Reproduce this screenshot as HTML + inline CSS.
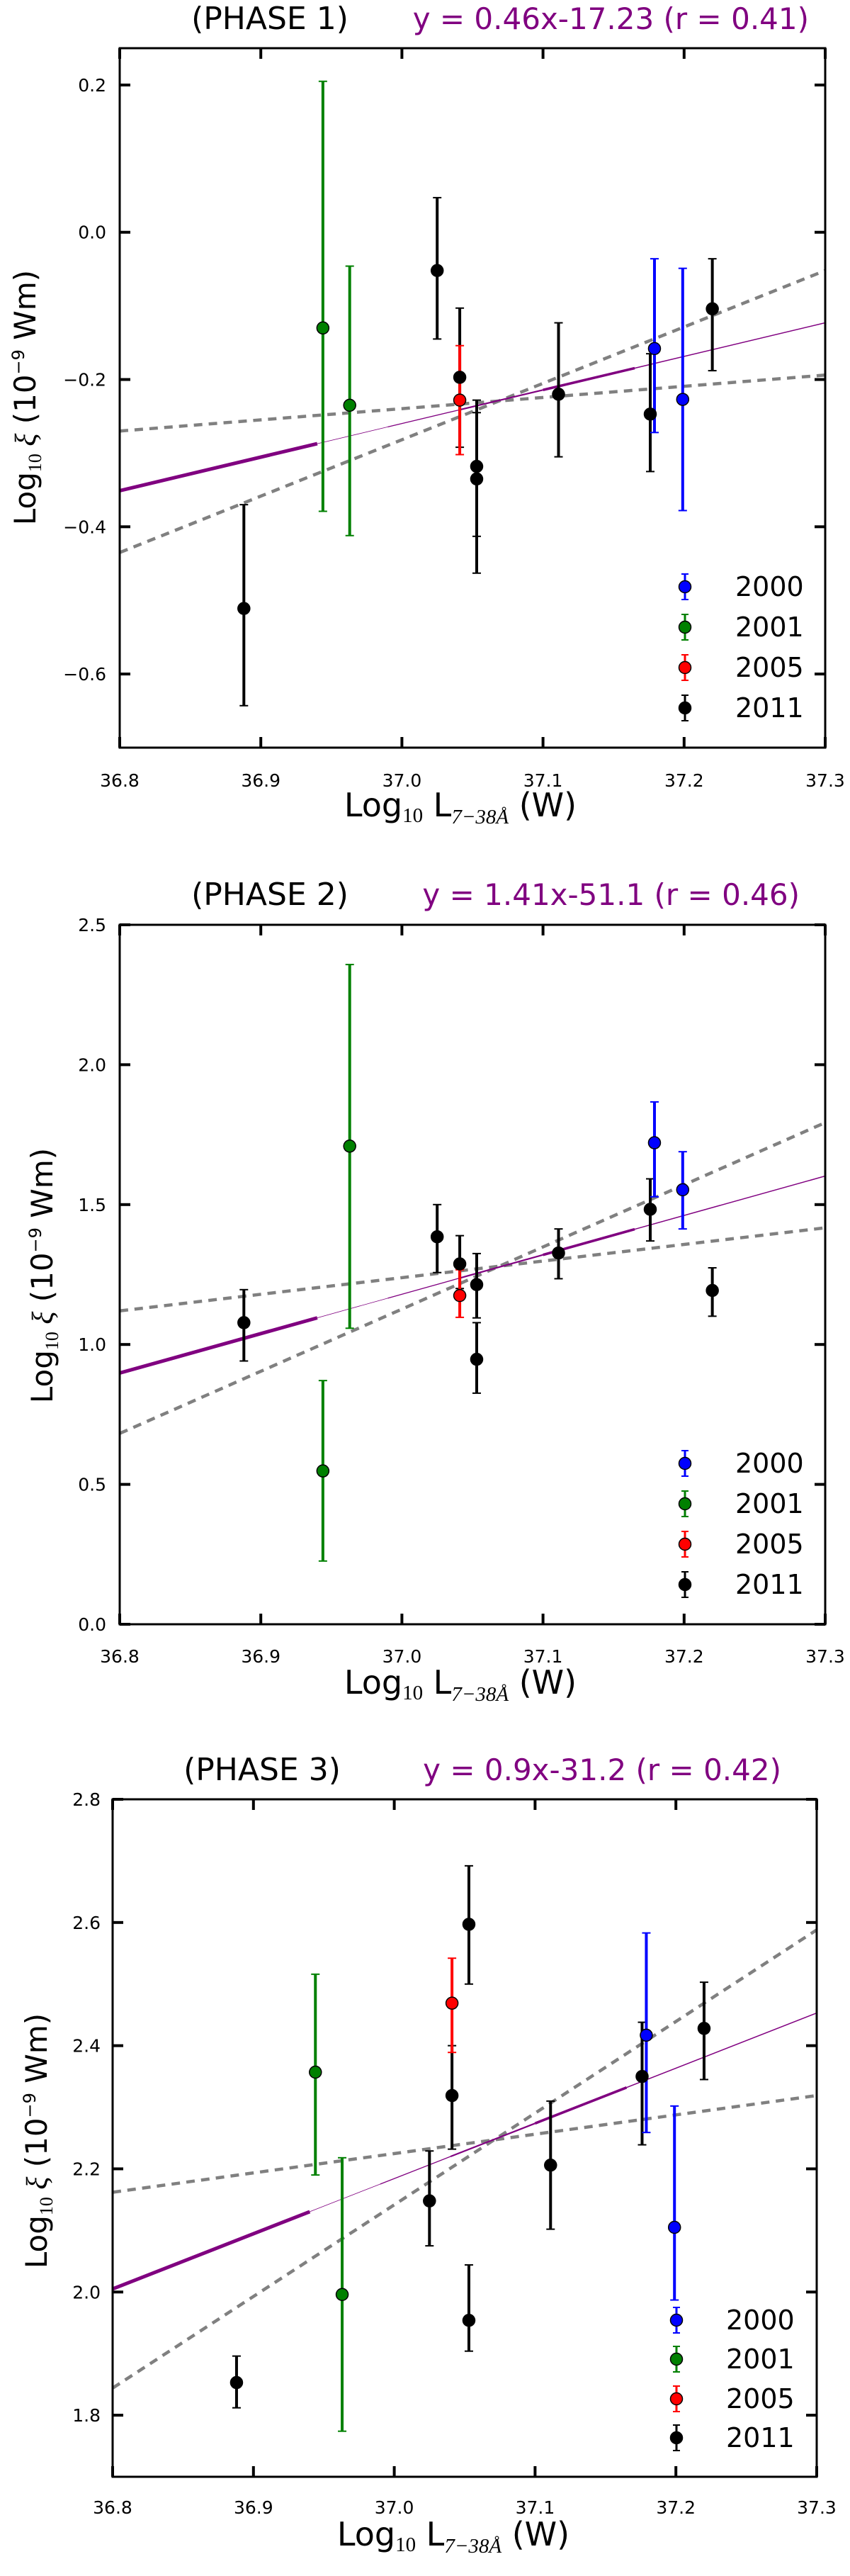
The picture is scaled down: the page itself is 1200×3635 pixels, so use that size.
<!DOCTYPE html>
<html><head><meta charset="utf-8"><style>
html,body{margin:0;padding:0;background:#fff;}
svg{display:block;font-family:"DejaVu Sans","Liberation Sans",sans-serif;}
</style></head><body>
<svg id="fig" width="1200" height="3635" viewBox="0 0 1200 3635" xmlns="http://www.w3.org/2000/svg"></svg>
<script>
// ---- data (x = log10 L, y = log10 xi, lo/hi = error bar ends) ----
const xTicks = [36.8, 36.9, 37.0, 37.1, 37.2, 37.3];
const years = ['2000','2001','2005','2011'];
const yearColors = {'2000':'#0000ff','2001':'#008000','2005':'#ff0000','2011':'#000000'};
const ptYear = ['2011','2001','2001','2011','2011','2005','2011','2011','2011','2011','2000','2000','2011'];
const ptX = [36.888, 36.944, 36.963, 37.025, 37.041, 37.041, 37.053, 37.053, 37.111, 37.176, 37.179, 37.199, 37.220];

const p1Y  = [-0.511,-0.130,-0.235,-0.052,-0.197,-0.228,-0.318,-0.335,-0.220,-0.247,-0.158,-0.227,-0.104];
const p1Hi = [-0.370, 0.205,-0.046, 0.047,-0.103,-0.154,-0.228,-0.245,-0.123,-0.165,-0.036,-0.049,-0.036];
const p1Lo = [-0.643,-0.379,-0.412,-0.145,-0.292,-0.302,-0.413,-0.463,-0.305,-0.325,-0.272,-0.378,-0.188];
const p1Ticks = [-0.6,-0.4,-0.2,0.0,0.2];
const p1TickLabels = ['\u22120.6','\u22120.4','\u22120.2','0.0','0.2'];
const p1Fit = [-0.351,-0.123];
const p1GrayA = [-0.270,-0.194];
const p1GrayB = [-0.435,-0.052];

const p2Y  = [1.078,0.548,1.709,1.385,1.288,1.175,1.214,0.947,1.327,1.483,1.721,1.553,1.193];
const p2Hi = [1.196,0.871,2.358,1.500,1.389,1.267,1.325,1.078,1.413,1.592,1.867,1.689,1.274];
const p2Lo = [0.941,0.226,1.058,1.257,1.200,1.097,1.095,0.826,1.235,1.370,1.528,1.413,1.101];
const p2Ticks = [0.0,0.5,1.0,1.5,2.0,2.5];
const p2TickLabels = ['0.0','0.5','1.0','1.5','2.0','2.5'];
const p2Fit = [0.898,1.602];
const p2GrayA = [1.120,1.417];
const p2GrayB = [0.682,1.793];

const p3Y  = [1.853,2.357,1.996,2.148,2.319,2.469,2.597,1.954,2.206,2.350,2.417,2.105,2.428];
const p3Hi = [1.896,2.516,2.218,2.229,2.400,2.542,2.692,2.044,2.310,2.438,2.583,2.302,2.503];
const p3Lo = [1.812,2.190,1.774,2.075,2.232,2.389,2.500,1.904,2.102,2.239,2.259,1.987,2.345];
const p3Ticks = [1.8,2.0,2.2,2.4,2.6,2.8];
const p3TickLabels = ['1.8','2.0','2.2','2.4','2.6','2.8'];
const p3Fit = [2.005,2.453];
const p3GrayA = [2.162,2.319];
const p3GrayB = [1.844,2.588];

const NS='http://www.w3.org/2000/svg';
const svg=document.getElementById('fig');
function mk(tag,attrs,parent){const e=document.createElementNS(NS,tag);for(const k in attrs)e.setAttribute(k,attrs[k]);(parent||svg).appendChild(e);return e;}

function panel(cfg){
  const g=mk('g',{});
  
  
  const L=cfg.left,R=cfg.right,T=cfg.top,B=cfg.bottom;
  const sx=v=>L+(v-36.8)/(0.5)*(R-L);
  const sy=v=>B-(v-cfg.ymin)/(cfg.ymax-cfg.ymin)*(B-T);
  const clip='clip'+cfg.id;
  const cp=mk('clipPath',{id:clip},g);mk('rect',{x:L,y:T,width:R-L,height:B-T},cp);
  const plot=mk('g',{'clip-path':'url(#'+clip+')'},g);
  [cfg.grayA,cfg.grayB].forEach((gl,i)=>{
    const l=mk('line',{x1:sx(36.8),y1:sy(gl[0]),x2:sx(37.3),y2:sy(gl[1]),stroke:'#808080','stroke-width':4.5,'stroke-dasharray':'12,9'},plot);
    
    
  });
  const fy=x=>cfg.fit[0]+(x-36.8)/0.5*(cfg.fit[1]-cfg.fit[0]);
  const segs=[[36.8,36.94,5],[36.94,36.99,0.8],[36.99,37.04,1.3],[37.04,37.1,2.2],[37.1,37.165,3.6],[37.165,37.3,1.5]];
  segs.forEach(s=>{
    const l=mk('line',{x1:sx(s[0]),y1:sy(fy(s[0])),x2:sx(s[1]),y2:sy(fy(s[1])),stroke:'#800080','stroke-width':s[2]},plot);
    
    
  });
  for(let i=0;i<ptX.length;i++){
    const c=yearColors[ptYear[i]];const x=sx(ptX[i]);
    const eb=mk('g',{},plot);
    
    
    mk('line',{x1:x,y1:sy(cfg.hi[i]),x2:x,y2:sy(cfg.lo[i]),stroke:c,'stroke-width':4},eb);
    mk('line',{x1:x-6,y1:sy(cfg.hi[i]),x2:x+6,y2:sy(cfg.hi[i]),stroke:c,'stroke-width':2},eb);
    mk('line',{x1:x-6,y1:sy(cfg.lo[i]),x2:x+6,y2:sy(cfg.lo[i]),stroke:c,'stroke-width':2},eb);
  }
  for(let i=0;i<ptX.length;i++){
    const c=yearColors[ptYear[i]];
    const p=mk('circle',{cx:sx(ptX[i]),cy:sy(cfg.y[i]),r:8.5,fill:c,stroke:'#000','stroke-width':1.5},plot);
    
    
  }
  const fr=mk('rect',{x:L,y:T,width:R-L,height:B-T,fill:'none',stroke:'#000','stroke-width':3},g);
  
  
  xTicks.forEach((t,i)=>{
    const x=sx(t);
    mk('line',{x1:x,y1:B,x2:x,y2:B-15,stroke:'#000','stroke-width':4},g);
    mk('line',{x1:x,y1:T,x2:x,y2:T+15,stroke:'#000','stroke-width':4},g);
    const tx=mk('text',{x:x,y:cfg.xtickY,'font-size':25,'text-anchor':'middle',fill:'#000'},g);
    tx.textContent=t.toFixed(1);
    
    
  });
  cfg.ticks.forEach((t,i)=>{
    const y=sy(t);
    mk('line',{x1:L,y1:y,x2:L+15,y2:y,stroke:'#000','stroke-width':4},g);
    mk('line',{x1:R,y1:y,x2:R-15,y2:y,stroke:'#000','stroke-width':4},g);
    const tx=mk('text',{x:cfg.ytickX,y:y+9,'font-size':25,'text-anchor':'end',fill:'#000'},g);
    tx.textContent=cfg.tickLabels[i];
    
    
  });
  const t1=mk('text',{x:cfg.titleX,y:cfg.titleY,'font-size':44,'text-anchor':'middle',fill:'#000'},g);
  t1.textContent='(PHASE '+cfg.id+')';
  
  
  const t2=mk('text',{x:cfg.eqX,y:cfg.titleY,'font-size':42,'text-anchor':'end',fill:'#800080'},g);
  t2.textContent=cfg.eq;
  
  
  const xl=mk('text',{x:cfg.xlabX,y:cfg.xlabY,'font-size':46,'text-anchor':'middle',fill:'#000'},g);
  xl.innerHTML='Log<tspan font-size="29" font-family="Liberation Serif, serif" dy="8">10</tspan><tspan dy="-8"> L</tspan><tspan font-size="29" font-family="Liberation Serif, serif" font-style="italic" dy="10">7\u221238\u00c5</tspan><tspan dy="-10"> (W)</tspan>';
  
  
  const yl=mk('text',{x:0,y:0,'font-size':42,'text-anchor':'middle',fill:'#000',transform:'translate('+cfg.ylabX+','+cfg.ylabY+') rotate(-90)'},g);
  yl.innerHTML='Log<tspan font-size="26" font-family="Liberation Serif, serif" dy="8">10</tspan><tspan dy="-8" font-family="Liberation Serif, serif" font-style="italic"> \u03be</tspan><tspan> (10</tspan><tspan font-size="24" dy="-16">\u22129</tspan><tspan dy="16"> Wm)</tspan>';
  
  
  years.forEach((yr,i)=>{
    const y=cfg.legY[i];const c=yearColors[yr];
    const lg=mk('g',{},g);
    
    
    mk('line',{x1:cfg.legX,y1:y-18,x2:cfg.legX,y2:y+18,stroke:c,'stroke-width':3},lg);
    mk('line',{x1:cfg.legX-5,y1:y-18,x2:cfg.legX+5,y2:y-18,stroke:c,'stroke-width':2},lg);
    mk('line',{x1:cfg.legX-5,y1:y+18,x2:cfg.legX+5,y2:y+18,stroke:c,'stroke-width':2},lg);
    mk('circle',{cx:cfg.legX,cy:y,r:8.5,fill:c,stroke:'#000','stroke-width':1.5},lg);
    const t=mk('text',{x:cfg.legTX,y:y+13,'font-size':38,fill:'#000'},lg);
    t.textContent=yr;
  });
}

panel({id:1,left:169,right:1165,top:68,bottom:1055,ymin:-0.7,ymax:0.25,
  y:p1Y,hi:p1Hi,lo:p1Lo,ticks:p1Ticks,tickLabels:p1TickLabels,fit:p1Fit,grayA:p1GrayA,grayB:p1GrayB,
  xtickY:1110,ytickX:150,titleX:381,titleY:41,eqX:1142,eq:'y = 0.46x-17.23  (r = 0.41)',
  xlabX:650,xlabY:1152,ylabX:50,ylabY:561,legX:967,legTX:1038,legY:[828,885,942,999]});
panel({id:2,left:169,right:1165,top:1305,bottom:2292,ymin:0,ymax:2.5,
  y:p2Y,hi:p2Hi,lo:p2Lo,ticks:p2Ticks,tickLabels:p2TickLabels,fit:p2Fit,grayA:p2GrayA,grayB:p2GrayB,
  xtickY:2346,ytickX:150,titleX:381,titleY:1277,eqX:1129,eq:'y = 1.41x-51.1  (r = 0.46)',
  xlabX:650,xlabY:2390,ylabX:74,ylabY:1800,legX:967,legTX:1038,legY:[2065,2122,2179,2236]});
panel({id:3,left:159,right:1153,top:2539,bottom:3495,ymin:1.7,ymax:2.8,
  y:p3Y,hi:p3Hi,lo:p3Lo,ticks:p3Ticks,tickLabels:p3TickLabels,fit:p3Fit,grayA:p3GrayA,grayB:p3GrayB,
  xtickY:3547,ytickX:142,titleX:370,titleY:2512,eqX:1103,eq:'y = 0.9x-31.2  (r = 0.42)',
  xlabX:640,xlabY:3592,ylabX:66,ylabY:3021,legX:955,legTX:1025,legY:[3274,3329,3385,3440]});
</script>
</body></html>
